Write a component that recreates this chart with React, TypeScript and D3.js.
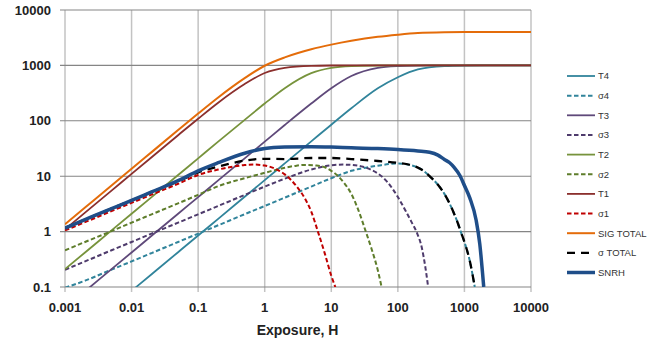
import React from 'react';
import * as d3 from 'd3';

// ---- data ----
const exposure = [0.001, 0.002, 0.005, 0.01, 0.02, 0.05, 0.1, 0.2, 0.5, 1, 2, 5, 10, 20, 50, 100, 200, 500, 1000, 2000, 5000, 10000];
const t1 = [1.1, 2.2, 5.5, 11, 22, 55, 109, 212, 460, 730, 905, 983, 996, 999, 1000, 1000, 1000, 1000, 1000, 1000, 1000, 1000];
const t2 = [0.21, 0.42, 1.05, 2.1, 4.2, 10.5, 21, 42, 104, 205, 388, 724, 903, 973, 995, 999, 1000, 1000, 1000, 1000, 1000, 1000];
const t3 = [0.042, 0.084, 0.21, 0.42, 0.84, 2.1, 4.2, 8.4, 21, 42, 84, 205, 387, 643, 903, 973, 993, 999, 1000, 1000, 1000, 1000];
const t4 = [0.0085, 0.017, 0.0425, 0.085, 0.17, 0.425, 0.85, 1.7, 4.25, 8.5, 17, 42.5, 85, 168, 385, 610, 845, 968, 992, 998, 1000, 1000];
const sigTotal = [1.36, 2.72, 6.8, 13.6, 27.2, 68, 135, 264, 589, 986, 1394, 1954, 2371, 2783, 3283, 3582, 3838, 3967, 3992, 3998, 4000, 4000];

const s1H = [0.001, 0.002, 0.005, 0.01, 0.02, 0.05, 0.1, 0.2, 0.35, 0.5, 0.7, 1, 1.5, 2, 3, 4, 5, 6.3, 8, 10, 11.5];
const s1 = [1.05, 1.48, 2.35, 3.3, 4.65, 7.3, 10.5, 13.2, 15, 15.9, 16.2, 15.6, 13.3, 10.8, 6.6, 4.0, 2.3, 1.0, 0.4, 0.16, 0.1];

const s2H = [0.001, 0.002, 0.005, 0.01, 0.02, 0.05, 0.1, 0.2, 0.5, 1, 2, 3, 4, 6, 8, 10, 12, 15, 20, 25, 33, 40, 50, 57];
const s2 = [0.46, 0.65, 1.02, 1.45, 2.05, 3.24, 4.6, 6.6, 9.2, 11.5, 14.2, 15.5, 16.0, 15.6, 14.5, 12.5, 10.6, 8, 4.8, 2.6, 1.0, 0.5, 0.2, 0.1];

const s3H = [0.001, 0.002, 0.005, 0.01, 0.02, 0.05, 0.1, 0.2, 0.5, 1, 2, 5, 10, 15, 20, 30, 40, 50, 70, 100, 130, 160, 190, 230, 260, 285];
const s3 = [0.205, 0.29, 0.46, 0.65, 0.92, 1.45, 2.05, 2.9, 4.6, 6.5, 9.0, 13.2, 15.7, 16.2, 16.0, 14.8, 13.0, 11.2, 7.8, 4.2, 2.4, 1.5, 1.0, 0.5, 0.22, 0.1];

const s4H = [0.001, 0.002, 0.005, 0.01, 0.02, 0.05, 0.1, 0.2, 0.5, 1, 2, 5, 10, 20, 50, 100, 150, 200, 250, 300, 400, 500, 600, 700, 800, 880, 1000, 1200, 1430];
const s4 = [0.097, 0.13, 0.206, 0.29, 0.41, 0.65, 0.92, 1.3, 2.06, 2.9, 4.1, 6.5, 9.2, 12.5, 15.5, 17, 16, 14.3, 12.2, 10, 7, 4.8, 3.2, 2.1, 1.4, 1.0, 0.65, 0.3, 0.1];

const sTotH = [0.001, 0.002, 0.005, 0.01, 0.02, 0.05, 0.1, 0.2, 0.5, 1, 2, 5, 10, 20, 50, 100, 150, 200, 250, 300, 400, 500, 600, 700, 800, 880, 1000, 1200, 1430];
const sTot = [1.17, 1.65, 2.61, 3.67, 5.18, 8.05, 11.7, 14.9, 19.1, 20.6, 20.4, 21.3, 21.3, 20.4, 18.8, 17.4, 16.1, 14.3, 12.2, 10, 7, 4.8, 3.2, 2.1, 1.4, 1.0, 0.65, 0.3, 0.1];

const snrH = [0.001, 0.002, 0.005, 0.01, 0.02, 0.05, 0.1, 0.2, 0.5, 1, 2, 5, 10, 20, 50, 100, 200, 300, 400, 500, 600, 700, 850, 1000, 1200, 1500, 1700, 1870, 1950];
const snr = [1.15, 1.65, 2.6, 3.65, 5.2, 8.3, 12.5, 17.5, 26, 31.5, 33.5, 34, 33.5, 32.5, 31.5, 30.3, 28.5, 27, 24, 20, 17.5, 14.5, 10.4, 6.8, 4.1, 1.6, 0.6, 0.18, 0.1];

const xTicks = [0.001, 0.01, 0.1, 1, 10, 100, 1000, 10000];
const xTickLabels = ['0.001', '0.01', '0.1', '1', '10', '100', '1000', '10000'];
const yTicks = [0.1, 1, 10, 100, 1000, 10000];
const yTickLabels = ['0.1', '1', '10', '100', '1000', '10000'];

type S = { name: string; xs: number[]; ys: number[]; color: string; width: number; dash?: string };

const zip = (a: number[], b: number[]) => a.map((v, i) => [v, b[i]] as [number, number]);

export default function App() {
  const x = d3.scaleLog().domain([0.001, 10000]).range([65, 531]);
  const y = d3.scaleLog().domain([0.1, 10000]).range([287, 10]);
  const line = d3
    .line<[number, number]>()
    .x((d) => x(d[0]))
    .y((d) => y(d[1]))
    .curve(d3.curveMonotoneX);

  const series: S[] = [
    { name: 'T4', xs: exposure, ys: t4, color: '#31849B', width: 1.8 },
    { name: 'σ4', xs: s4H, ys: s4, color: '#31849B', width: 2, dash: '4.5,2.5' },
    { name: 'T3', xs: exposure, ys: t3, color: '#5F497A', width: 1.8 },
    { name: 'σ3', xs: s3H, ys: s3, color: '#4E3B6C', width: 2, dash: '4.5,2.5' },
    { name: 'T2', xs: exposure, ys: t2, color: '#77933C', width: 1.8 },
    { name: 'σ2', xs: s2H, ys: s2, color: '#5E7D2B', width: 2, dash: '4.5,2.5' },
    { name: 'T1', xs: exposure, ys: t1, color: '#8B2F2D', width: 1.8 },
    { name: 'σ1', xs: s1H, ys: s1, color: '#C00000', width: 2, dash: '4.5,2.5' },
    { name: 'SIG TOTAL', xs: exposure, ys: sigTotal, color: '#E46C0A', width: 2 },
    { name: 'σ TOTAL', xs: sTotH, ys: sTot, color: '#000000', width: 2.3, dash: '8,6' },
    { name: 'SNRH', xs: snrH, ys: snr, color: '#1F4E89', width: 3.5 },
  ];

  const font = "'Liberation Sans', Arial, sans-serif";

  return (
    <svg width={668} height={348} style={{ position: 'absolute', left: 0, top: 0, background: '#fff' }}>
      <defs>
        <clipPath id="plot">
          <rect x={65} y={10} width={466} height={277} />
        </clipPath>
      </defs>
      {/* vertical grid */}
      {xTicks.map((t) => (
        <line key={'vx' + t} x1={x(t)} x2={x(t)} y1={10} y2={292} stroke="#C3C3C3" strokeWidth={1.5} />
      ))}
      {/* horizontal grid */}
      {yTicks.map((t) => (
        <line key={'hy' + t} x1={60} x2={531} y1={y(t)} y2={y(t)} stroke="#858585" strokeWidth={1.1} />
      ))}
      {/* y labels */}
      {yTicks.map((t, i) => (
        <text key={'yl' + t} x={51} y={y(t)} dy="0.36em" textAnchor="end" fontFamily={font} fontWeight="bold" fontSize={13} fill="#222">
          {yTickLabels[i]}
        </text>
      ))}
      {/* x labels */}
      {xTicks.map((t, i) => (
        <text key={'xl' + t} x={x(t)} y={311.5} textAnchor="middle" fontFamily={font} fontWeight="bold" fontSize={13} fill="#222">
          {xTickLabels[i]}
        </text>
      ))}
      <text x={297.5} y={335} textAnchor="middle" fontFamily={font} fontWeight="bold" fontSize={14} fill="#222">
        Exposure, H
      </text>
      <g clipPath="url(#plot)">
        {series.map((s) => (
          <path
            key={s.name}
            d={line(zip(s.xs, s.ys)) || ''}
            fill="none"
            stroke={s.color}
            strokeWidth={s.width}
            strokeDasharray={s.dash}
          />
        ))}
      </g>
      {/* legend */}
      {series.map((s, i) => {
        const ly = 76 + i * 19.65;
        return (
          <g key={'lg' + s.name}>
            <line
              x1={567}
              x2={s.name === 'σ TOTAL' ? 591 : 595}
              y1={ly}
              y2={ly}
              stroke={s.color}
              strokeWidth={s.width}
              strokeDasharray={s.dash}
            />
            <text x={598} y={ly} dy="0.36em" fontFamily={font} fontSize={9.5} fill="#333">
              {s.name}
            </text>
          </g>
        );
      })}
    </svg>
  );
}
